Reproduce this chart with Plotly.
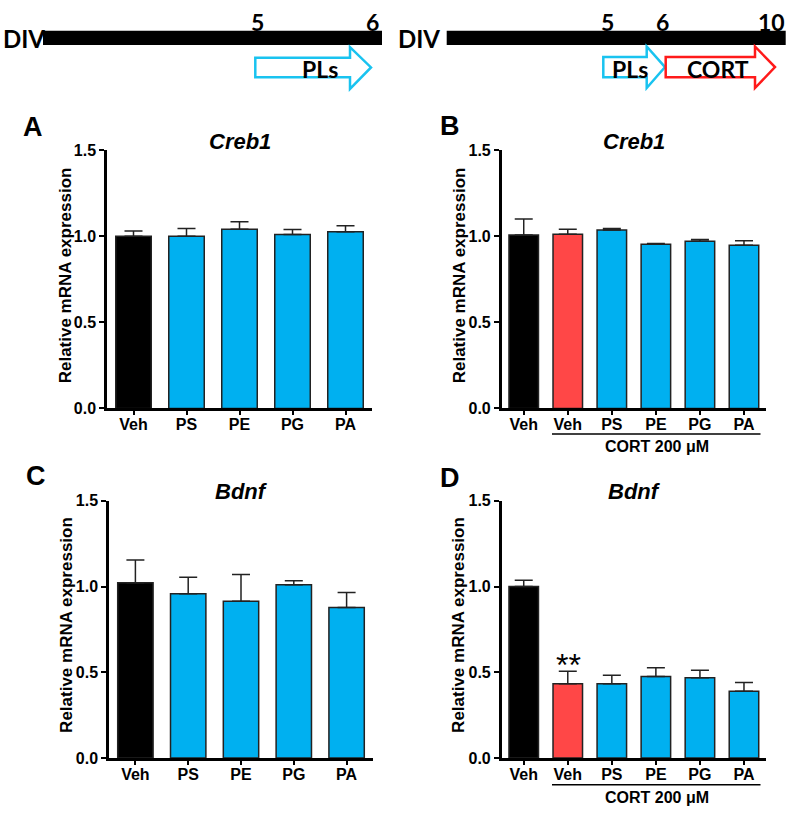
import plotly.graph_objects as go

# ---------------- data ----------------
cats_5 = ["Veh", "PS", "PE", "PG", "PA"]
cats_6 = ["Veh", "Veh ", "PS", "PE", "PG", "PA"]
tick_6 = ["Veh", "Veh", "PS", "PE", "PG", "PA"]

creb1_a = [1.00, 1.00, 1.04, 1.01, 1.025]
creb1_a_err = [0.03, 0.045, 0.043, 0.029, 0.036]

creb1_b = [1.007, 1.011, 1.036, 0.953, 0.970, 0.947]
creb1_b_err = [0.093, 0.029, 0.008, 0.005, 0.010, 0.026]

bdnf_c = [1.022, 0.958, 0.914, 1.011, 0.878]
bdnf_c_err = [0.133, 0.097, 0.156, 0.023, 0.087]

bdnf_d = [1.000, 0.434, 0.434, 0.476, 0.468, 0.390]
bdnf_d_err = [0.037, 0.072, 0.049, 0.051, 0.044, 0.050]

y_ticks = [0.0, 0.5, 1.0, 1.5]

BLACK = "#000000"
BLUE = "#00B0F0"
RED = "#FF4747"
colors_5 = [BLACK, BLUE, BLUE, BLUE, BLUE]
colors_6 = [BLACK, RED, BLUE, BLUE, BLUE, BLUE]

W, H = 789, 817
FONT = "Liberation Sans, Arial, sans-serif"
FONT2 = "Lato, Open Sans, sans-serif"


def px(x):
    return x / W


def py(y):
    return 1 - y / H


fig = go.Figure()

panels = [
    ("x", "y", cats_5, cats_5, creb1_a, creb1_a_err, colors_5),
    ("x2", "y2", cats_6, tick_6, creb1_b, creb1_b_err, colors_6),
    ("x3", "y3", cats_5, cats_5, bdnf_c, bdnf_c_err, colors_5),
    ("x4", "y4", cats_6, tick_6, bdnf_d, bdnf_d_err, colors_6),
]

for xa, ya, cats, ticks, vals, errs, cols in panels:
    fig.add_trace(go.Bar(
        x=cats, y=vals, xaxis=xa, yaxis=ya,
        marker=dict(color=cols, line=dict(color="#222222", width=1.5)),
        width=0.67,
        error_y=dict(type="data", symmetric=False, array=errs,
                     arrayminus=[0] * len(errs), color="#222222",
                     thickness=1.5, width=9),
        showlegend=False, hoverinfo="skip",
    ))

# axis domains (pixel based)
top_y = [py(409), py(145)]
bot_y = [py(766), py(503.3)]
left_x = [px(107), px(372)]
left_x2 = [px(109), px(373)]
right_x = [px(501.7), px(766)]

common_x = dict(showline=True, linecolor="black", linewidth=2.5,
                ticks="outside", ticklen=4, tickwidth=2, tickcolor="black",
                ticklabelstandoff=-4,
                tickfont=dict(family=FONT, size=16, color="black", weight="bold"),
                showgrid=False, zeroline=False, fixedrange=True)
common_y = dict(showline=True, linecolor="black", linewidth=2.5,
                ticks="outside", ticklen=5, tickwidth=2, tickcolor="black",
                tickfont=dict(family=FONT, size=16, color="black", weight="bold"),
                range=[0, 1.5], tickvals=y_ticks, tickformat=".1f",
                showgrid=False, zeroline=False, fixedrange=True)

fig.update_layout(
    width=W, height=H,
    margin=dict(l=0, r=0, t=0, b=0),
    paper_bgcolor="white", plot_bgcolor="white",
    bargap=0.33,
    xaxis=dict(domain=left_x, anchor="y", range=[-0.5, 4.5],
               categoryorder="array", categoryarray=cats_5, **common_x),
    yaxis=dict(domain=top_y, anchor="x", **common_y),
    xaxis2=dict(domain=right_x, anchor="y2", range=[-0.5, 5.5],
                tickmode="array", tickvals=cats_6, ticktext=tick_6, **common_x),
    yaxis2=dict(domain=top_y, anchor="x2", **common_y),
    xaxis3=dict(domain=left_x2, anchor="y3", range=[-0.5, 4.5], **common_x),
    yaxis3=dict(domain=bot_y, anchor="x3", **common_y),
    xaxis4=dict(domain=right_x, anchor="y4", range=[-0.5, 5.5],
                tickmode="array", tickvals=cats_6, ticktext=tick_6, **common_x),
    yaxis4=dict(domain=bot_y, anchor="x4", **common_y),
)

ann = []


def text(x, y, s, size, family=FONT, angle=0, color="black", xanchor="center"):
    ann.append(dict(x=px(x), y=py(y), xref="paper", yref="paper", text=s,
                    showarrow=False, textangle=angle, xanchor=xanchor,
                    yanchor="middle",
                    font=dict(family=family, size=size, color=color)))


# panel letters
text(32.5, 121.7, "<b>A</b>", 27)
text(450, 120, "<b>B</b>", 27)
text(36, 478, "<b>C</b>", 27)
text(450, 480, "<b>D</b>", 27)

# gene titles
text(240, 136.7, "<b><i>Creb1</i></b>", 22)
text(634, 136.7, "<b><i>Creb1</i></b>", 22)
text(241, 493.3, "<b><i>Bdnf</i></b>", 22)
text(634, 493.3, "<b><i>Bdnf</i></b>", 22)

# y titles
for xx, yy in [(65, 273), (459, 273), (67, 630), (459, 630)]:
    text(xx, yy, "<b>Relative mRNA expression</b>", 17, angle=-90)

# CORT brackets
text(656.5, 448.3, "<b>CORT 200 μM</b>", 16)
text(656.5, 806.7, "<b>CORT 200 μM</b>", 16)

# significance
text(568, 671, "**", 32)

# timeline texts
text(1, 31, "<b>DIV</b>", 24, family=FONT2, xanchor="left")
text(257, 14, "<b>5</b>", 23, family=FONT2)
text(372, 14, "<b>6</b>", 23, family=FONT2)
text(320, 62, "<b>PLs</b>", 23, family=FONT2)

text(396, 31, "<b>DIV</b>", 24, family=FONT2, xanchor="left")
text(607, 14, "<b>5</b>", 23, family=FONT2)
text(662, 14, "<b>6</b>", 23, family=FONT2)
text(771, 14, "<b>10</b>", 23, family=FONT2)
text(630, 62, "<b>PLs</b>", 23, family=FONT2)
text(718, 62, "<b>CORT</b>", 23, family=FONT2)

fig.update_layout(annotations=ann)

shapes = []
# timeline bars
shapes.append(dict(type="rect", xref="paper", yref="paper",
                   x0=px(43), x1=px(382), y0=py(37.7), y1=py(23.3),
                   fillcolor="black", line=dict(width=0)))
shapes.append(dict(type="rect", xref="paper", yref="paper",
                   x0=px(446.7), x1=px(785.7), y0=py(37.7), y1=py(23.3),
                   fillcolor="black", line=dict(width=0)))


def arrow(x0, xh, xt, yb0, yb1, yh0, yh1, color):
    ym = (yb0 + yb1) / 2
    pts = [(x0, yb0), (xh, yb0), (xh, yh0), (xt, ym), (xh, yh1), (xh, yb1),
           (x0, yb1)]
    path = "M " + " L ".join(f"{px(a):.5f},{py(b):.5f}" for a, b in pts) + " Z"
    shapes.append(dict(type="path", xref="paper", yref="paper", path=path,
                       fillcolor="rgba(0,0,0,0)",
                       line=dict(color=color, width=2.5)))


CYAN = "#19C3F0"
arrow(255.3, 350, 371, 50.7, 70.7, 40, 82.7, CYAN)
arrow(603.3, 646.7, 665, 50, 70.7, 39.3, 81.7, CYAN)
arrow(665.7, 755, 775, 50, 70.7, 39.3, 81.7, "#FF1A1A")

# CORT bracket lines
for yy in [435, 793.3]:
    shapes.append(dict(type="line", xref="paper", yref="paper",
                       x0=px(552), x1=px(760.5), y0=py(yy), y1=py(yy),
                       line=dict(color="black", width=1.5)))

fig.update_layout(shapes=shapes)

fig.write_html("out.html",
               config={"displayModeBar": False},
               post_script="document.body.style.margin='0';"
                           "document.body.style.overflow='hidden';")
